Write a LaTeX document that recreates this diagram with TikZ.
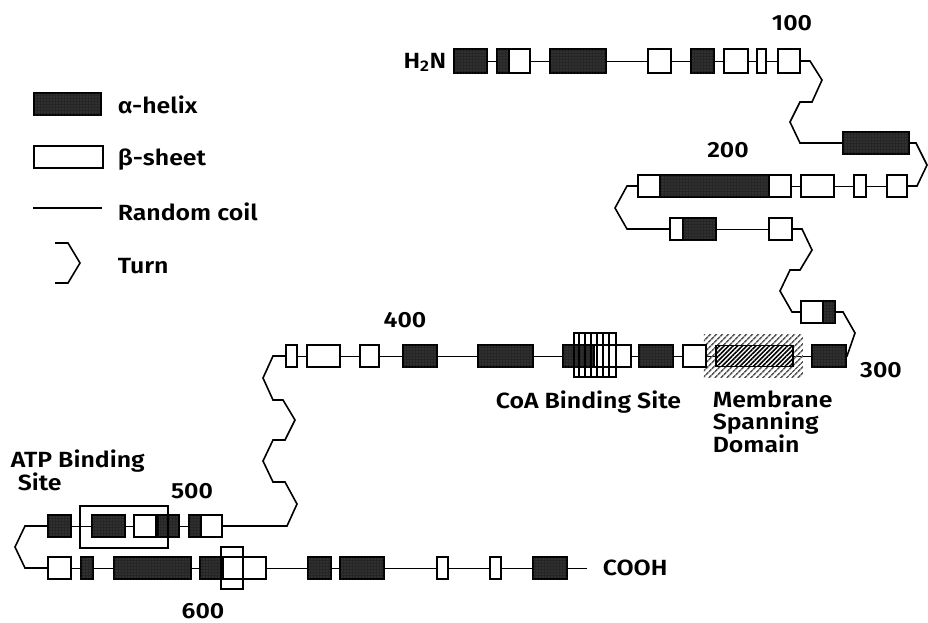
\documentclass[tikz,border=0pt]{standalone}
\usepackage{fontspec}
\setmainfont{Fira Sans}[BoldFont={Fira Sans SemiBold}, BoldFeatures={FakeStretch=1.13}]
\usetikzlibrary{patterns.meta,backgrounds}

\begin{document}
\begin{tikzpicture}[x=1pt, y=-1pt, line width=1.6pt,
    helix/.style={draw, fill=black!85, anchor=west, minimum height=22pt, inner sep=0pt,
      postaction={pattern={Dots[distance=3pt, radius=0.45pt]}, pattern color=gray!70}},
    sheet/.style={draw, fill=white, anchor=west, minimum height=22pt, inner sep=0pt},
    lbl/.style={font=\fontsize{22}{22}\selectfont\bfseries, inner sep=0pt}]
    \useasboundingbox (0,0) rectangle (928,622);

    % Legend
    \node[helix, minimum width=67pt] (lh) at (33,104) {};
    \node[lbl, anchor=base west] (lhtxt) at (117,113) {α-helix};
    \node[sheet, minimum width=69pt] (lb) at (33,157) {};
    \node[lbl, anchor=base west] (lbtxt) at (117,165) {β-sheet};
    \coordinate (lc1) at (33,208);
    \coordinate (lc2) at (102,208);
    \draw (lc1) -- (lc2);
    \node[lbl, anchor=base west] (lctxt) at (117,220) {Random coil};
    \coordinate (lt1) at (55,243);
    \coordinate (lt2) at (55,283);
    \draw (lt1) -- ++(13,0) -- ++(12,20) -- ++(-12,20) -- (lt2);
    \node[lbl, anchor=base west] (lttxt) at (117,273) {Turn};

    % Row 1 (N-terminus)
    \node[lbl, anchor=base east] (nterm) at (447,68) {H\textsubscript{2}N};
    \node[helix, minimum width=33pt, minimum height=24pt] (h1) at (453,61) {};
    \node[helix, minimum width=12pt, minimum height=24pt] (h2) at (496,61) {};
    \node[sheet, minimum width=21pt, minimum height=24pt] (b2) at (508,61) {};
    \node[helix, minimum width=56pt, minimum height=24pt] (h3) at (549,61) {};
    \node[sheet, minimum width=23pt, minimum height=24pt] (b4) at (647,61) {};
    \node[helix, minimum width=23pt, minimum height=24pt] (h5) at (690,61) {};
    \node[sheet, minimum width=24pt, minimum height=24pt] (b6) at (723,61) {};
    \node[sheet, minimum width=9pt, minimum height=24pt] (b7) at (756,61) {};
    \node[sheet, minimum width=22pt, minimum height=24pt] (b8) at (777,61) {};
    \node[lbl, anchor=base] (n100) at (792,30) {100};
    \node[helix, minimum width=66pt] (h9) at (842,143) {};

    % Row 2
    \node[sheet, minimum width=20pt] (b10) at (886,186) {};
    \node[sheet, minimum width=12pt] (b11) at (853,186) {};
    \node[sheet, minimum width=33pt] (b12) at (800,186) {};
    \node[sheet, minimum width=22pt] (b13a) at (637,186) {};
    \node[helix, minimum width=109pt] (h13) at (659,186) {};
    \node[sheet, minimum width=22pt] (b13b) at (768,186) {};
    \node[lbl, anchor=base] (n200) at (728,157) {200};

    % Row 3
    \node[sheet, minimum width=13pt] (b14) at (669,229) {};
    \node[helix, minimum width=33pt] (h14) at (682,229) {};
    \node[sheet, minimum width=23pt] (b15) at (768,229) {};
    \node[sheet, minimum width=22pt] (b16) at (800,312) {};
    \node[helix, minimum width=12pt] (h16) at (822,312) {};

    % Row 4
    \node[anchor=west, minimum width=99pt, minimum height=43pt, inner sep=0pt,
      pattern={Lines[angle=45, distance=4pt, line width=1.6pt]}, pattern color=black!65] (memzone) at (703,355.5) {};
    \node[sheet, minimum width=77pt, minimum height=21pt,
      postaction={pattern={Lines[angle=45, distance=3.2pt, line width=1.6pt]}}] (mem) at (715,356) {};
    \node[helix, minimum width=34pt] (h17) at (811,356) {};
    \node[lbl, anchor=base] (n300) at (881,377) {300};
    \node[sheet, minimum width=23pt] (b18) at (682,356) {};
    \node[helix, minimum width=34pt] (h19) at (638,356) {};
    \node[helix, minimum width=31pt] (h20) at (562,356) {};
    \node[sheet, minimum width=37pt] (b20) at (593,356) {};
    \node[draw, anchor=west, minimum width=42pt, minimum height=44pt, inner sep=0pt] (coa) at (573,355) {};
    \foreach \i in {1,...,6}
      \draw ([xshift=\i*6pt]coa.north west) -- ([xshift=\i*6pt]coa.south west);
    \node[helix, minimum width=55pt] (h21) at (477,356) {};
    \node[helix, minimum width=34pt] (h22) at (402,356) {};
    \node[sheet, minimum width=19pt] (b23) at (359,356) {};
    \node[sheet, minimum width=33pt] (b24) at (306,356) {};
    \node[sheet, minimum width=11pt] (b25) at (285,356) {};
    \node[lbl, anchor=base] (n400) at (405,327) {400};
    \node[lbl, anchor=base west] (coatxt) at (495,408) {CoA Binding Site};
    \node[lbl, anchor=north west, align=left] (memtxt) at (712,390) {Membrane\\Spanning\\Domain};

    % Row 5
    \node[helix, minimum width=12pt] (h26) at (188,526) {};
    \node[sheet, minimum width=21pt] (b26) at (200,526) {};
    \node[helix, minimum width=21pt] (h27) at (157,526) {};
    \node[sheet, minimum width=22pt] (b28) at (133,526) {};
    \node[helix, minimum width=33pt] (h29) at (91,526) {};
    \node[helix, minimum width=23pt] (h30) at (47,526) {};
    \node[draw, anchor=west, minimum width=88pt, minimum height=42pt, inner sep=0pt] (atp) at (79,527) {};
    \node[lbl, anchor=base] (n500) at (192,498) {500};
    \node[lbl, anchor=base west] (atptxt) at (10,467) {ATP Binding};
    \node[lbl, anchor=base west] (atptxt2) at (17,490) {Site};

    % Row 6 (C-terminus)
    \node[sheet, minimum width=23pt] (b31) at (47,568) {};
    \node[helix, minimum width=12pt] (h32) at (80,568) {};
    \node[helix, minimum width=77pt] (h33) at (113,568) {};
    \node[helix, minimum width=23pt] (h34) at (199,568) {};
    \node[sheet, minimum width=20pt] (b34) at (222,568) {};
    \node[sheet, minimum width=23pt] (b35) at (242,568) {};
    \node[draw, anchor=west, minimum width=22pt, minimum height=42pt, inner sep=0pt] (xr) at (220,568) {};
    \node[helix, minimum width=23pt] (h36) at (307,568) {};
    \node[helix, minimum width=44pt] (h37) at (339,568) {};
    \node[sheet, minimum width=11pt] (b38) at (436,568) {};
    \node[sheet, minimum width=11pt] (b39) at (489,568) {};
    \node[helix, minimum width=34pt] (h40) at (532,568) {};
    \coordinate (cend) at (587,568);
    \node[lbl, anchor=west] (cterm) at (602,568) {COOH};
    \node[lbl, anchor=base] (n600) at (203,618) {600};

    % Random coil
    \begin{scope}[on background layer]
      \draw (h1.center) -- (b8.center);
      \draw (b13a.center) -- (b10.center);
      \draw (b14.center) -- (b15.center);
      \draw (b25.center) -- (h17.center);
      \draw (h30.center) -- (b26.center);
      \draw (b31.center) -- (cend);
    \end{scope}

    % Turns
    \draw (b8.east) -- (810,61) -- (822,80) -- (812,102) -- (800,102) -- (790,122) -- (800,143) -- (h9.west);
    \draw (h9.east) -- (916,143) -- (927,165) -- (917,186) -- (b10.east);
    \draw (b13a.west) -- (627,186) -- (615,208) -- (627,229) -- (b14.west);
    \draw (b15.east) -- (802,229) -- (812,250) -- (800,270) -- (790,270) -- (780,291) -- (792,312) -- (b16.west);
    \draw (h16.east) -- (843,312) -- (855,333) -- (847,356) -- (h17.east);
    \draw (b25.west) -- (273,356) -- (263,378) -- (273,400) -- (283,400) -- (295,420) -- (285,440)
      -- (273,440) -- (263,461) -- (273,482) -- (285,482) -- (297,504) -- (287,526) -- (b26.east);
    \draw (h30.west) -- (25,526) -- (15,547) -- (25,568) -- (b31.west);
  \end{tikzpicture}
\end{document}
